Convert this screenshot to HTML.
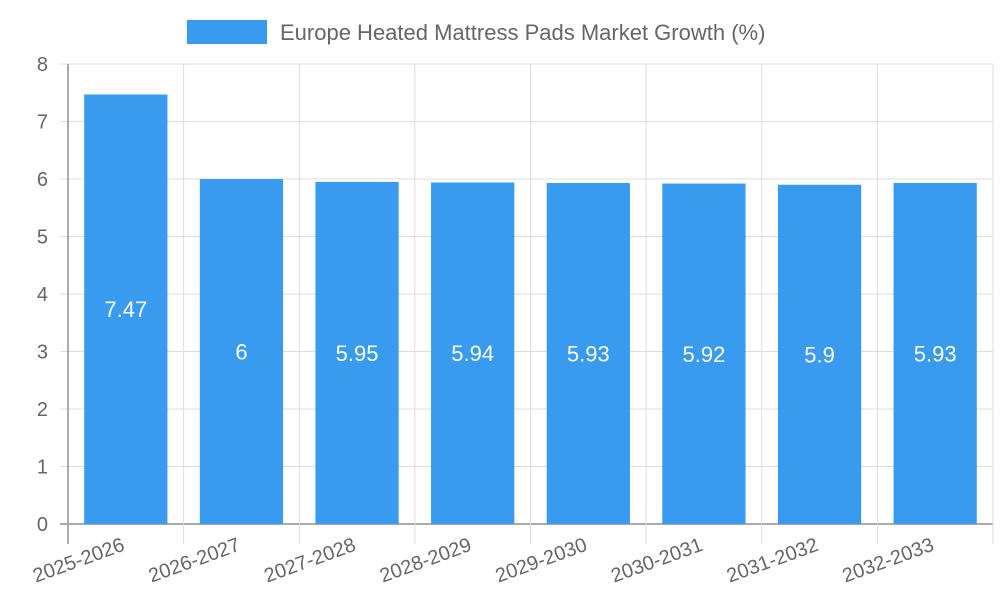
<!DOCTYPE html>
<html><head><meta charset="utf-8"><style>
html,body{margin:0;padding:0;background:#fff;width:1000px;height:600px;overflow:hidden}
svg{font-family:"Liberation Sans",sans-serif}
</style></head><body>
<svg id="c" width="1000" height="600"></svg>
<script>
const categories=["2025-2026","2026-2027","2027-2028","2028-2029","2029-2030","2030-2031","2031-2032","2032-2033"];
const values=[7.47,6,5.95,5.94,5.93,5.92,5.9,5.93];
const yTicks=[0,1,2,3,4,5,6,7,8];
const seriesName="Europe Heated Mattress Pads Market Growth (%)";
const X0=68,X1=993,Y0=524,Y1=64,YMAX=8;
const NS="http://www.w3.org/2000/svg";
const svg=document.getElementById('c');
const band=(X1-X0)/categories.length;
const xs=i=>X0+band*i;
const ys=v=>Y0-(v/YMAX)*(Y0-Y1);
function mk(t,a,p){const e=document.createElementNS(NS,t);for(const k in a)e.setAttribute(k,a[k]);(p||svg).appendChild(e);return e;}
// grid
yTicks.forEach(t=>{
 const l=mk('line',{x1:X0-8,x2:X1,y1:ys(t),y2:ys(t),stroke:t===0?'#aaa':'#ddd','stroke-width':t===0?2:1});
 
 
 const tx=mk('text',{x:X0-20,y:ys(t)+7,'text-anchor':'end','font-size':20,fill:'#666'});
 tx.textContent=t;
 
 
});
for(let i=0;i<=categories.length;i++){
 const l=mk('line',{x1:xs(i),x2:xs(i),y1:Y1,y2:Y0+20,stroke:i===0?'#aaa':'#ddd','stroke-width':i===0?2:1});
 
 
}
categories.forEach((c,i)=>{
 const bw=band*0.72,bx=xs(i)+(band-bw)/2,by=ys(values[i]);
 const r=mk('rect',{x:bx,y:by,width:bw,height:Y0-by,fill:'#389bf0'});
 
 
 const v=mk('text',{x:bx+bw/2,y:(by+Y0)/2+8,'text-anchor':'middle','font-size':22,fill:'#fff'});
 v.textContent=values[i];
 
 
 const cx=xs(i)+band/2;
 const t=mk('text',{x:cx,y:550,'text-anchor':'end','font-size':20,fill:'#666',transform:`rotate(-20 ${cx} 550)`});
 t.textContent=c;
 
 
});
const lb=mk('rect',{x:187,y:20,width:80,height:24,fill:'#389bf0'});


const lt=mk('text',{x:280,y:40,'font-size':22,fill:'#666'});
lt.textContent=seriesName;


</script>
</body></html>
